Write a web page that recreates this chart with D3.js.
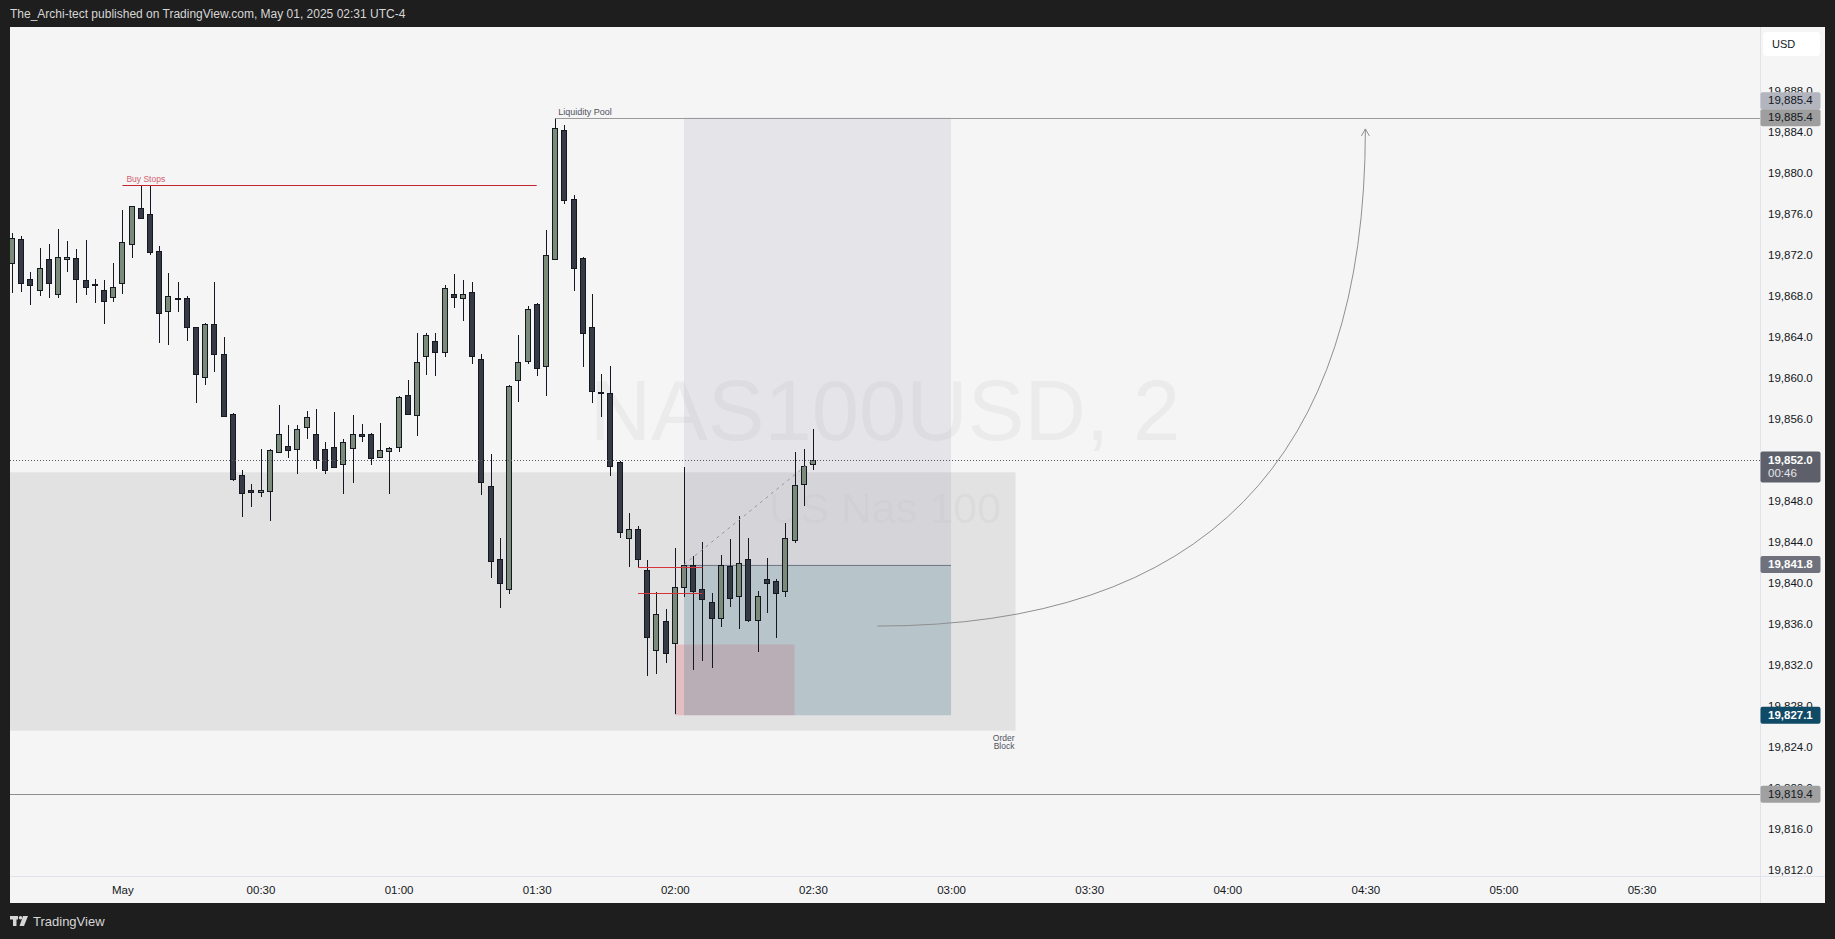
<!DOCTYPE html>
<html>
<head>
<meta charset="utf-8">
<script src="https://cdn.jsdelivr.net/npm/d3@7"></script>
<style>
html,body{margin:0;padding:0;background:#1e1e1e;overflow:hidden}
svg{display:block}
text{font-family:"Liberation Sans",Arial,sans-serif}
</style>
</head>
<body>
<svg id="chart" width="1835" height="939"></svg>
<script>
// ================= DATA =================
const headerText = "The_Archi-tect published on TradingView.com, May 01, 2025 02:31 UTC-4";
const symbolTitle = "NAS100USD, 2";
const symbolSubtitle = "US Nas 100";
const currencyLabel = "USD";
const firstBarTime = "2025-04-30 23:36";   // 2-minute bars
const barIntervalMin = 2;

const opens = [19871.2,19873.6,19869.7,19868.6,19871.6,19868.2,19871.6,19871.7,19869.6,19869.2,
19868.6,19867.9,19869.3,19873.1,19876.6,19876.0,19872.4,19866.5,19867.8,19867.8,
19865.0,19860.1,19865.3,19862.3,19856.5,19850.5,19849.1,19848.9,19849.0,19852.8,
19853.4,19853.1,19855.2,19854.5,19853.1,19853.3,19851.6,19853.2,19854.5,19854.5,
19852.3,19852.9,19853.3,19858.3,19856.4,19862.1,19863.6,19862.5,19868.2,19867.8,
19868.4,19861.9,19849.5,19842.3,19839.4,19859.8,19861.7,19867.2,19861.2,19871.6,
19884.2,19877.5,19871.7,19865.0,19858.6,19858.5,19851.8,19844.4,19845.3,19841.3,
19833.5,19836.3,19834.1,19839.6,19841.8,19839.4,19838.1,19836.6,19841.7,19838.7,
19842.3,19836.4,19840.4,19840.2,19839.2,19844.2,19849.7,19851.6];
const highs = [19874.1,19873.9,19870.3,19872.7,19873.1,19874.5,19873.4,19872.6,19873.5,19869.7,
19869.6,19871.2,19876.4,19876.8,19878.8,19878.8,19872.9,19870.2,19869.4,19868.0,
19865.0,19865.4,19869.4,19864.0,19856.6,19851.0,19849.7,19853.1,19853.1,19857.4,
19855.4,19855.4,19856.8,19857.0,19853.8,19856.7,19854.0,19856.4,19855.5,19854.6,
19855.6,19853.3,19858.2,19859.8,19864.4,19864.4,19864.4,19869.1,19870.1,19869.6,
19869.4,19862.3,19852.6,19844.4,19859.3,19864.2,19867.0,19867.3,19874.4,19885.4,
19884.7,19877.9,19871.8,19868.2,19860.4,19861.2,19851.9,19846.8,19845.6,19842.2,
19839.1,19837.5,19843.4,19851.3,19842.6,19844.0,19839.0,19842.7,19844.3,19846.5,
19844.4,19839.2,19842.4,19840.4,19845.9,19852.8,19853.1,19855.0];
const lows = [19868.3,19868.4,19867.1,19868.0,19867.8,19867.8,19870.3,19867.3,19868.1,19867.3,
19865.3,19867.4,19868.2,19871.7,19875.5,19872.0,19863.4,19863.2,19866.4,19863.6,
19857.6,19859.3,19860.6,19856.3,19850.0,19846.4,19847.4,19848.4,19846.0,19852.7,
19852.2,19850.6,19854.0,19851.1,19850.6,19851.2,19848.7,19849.8,19853.8,19851.5,
19852.2,19848.7,19852.8,19856.4,19854.3,19860.3,19860.2,19862.0,19866.8,19865.6,
19861.4,19848.6,19840.5,19837.6,19838.9,19857.7,19861.4,19860.2,19858.2,19871.6,
19877.0,19868.5,19861.1,19857.6,19856.2,19850.4,19844.4,19841.6,19841.6,19830.9,
19831.1,19832.2,19827.2,19838.6,19831.5,19832.4,19831.7,19835.7,19837.7,19835.5,
19836.2,19833.3,19837.1,19834.6,19838.6,19843.9,19847.5,19851.0];
const closes = [19873.7,19869.3,19869.1,19870.7,19869.3,19871.8,19871.8,19869.7,19868.9,19869.1,
19867.5,19868.9,19873.3,19876.8,19875.6,19872.3,19866.3,19868.0,19867.7,19865.0,
19860.4,19865.3,19862.3,19856.3,19850.1,19848.8,19848.9,19849.1,19853.0,19854.5,
19853.0,19855.0,19856.2,19852.0,19851.0,19851.3,19853.8,19854.5,19854.3,19852.2,
19853.0,19853.2,19858.1,19856.5,19861.6,19864.2,19862.5,19868.8,19867.9,19868.2,
19862.1,19849.9,19842.1,19840.0,19859.2,19861.6,19866.7,19861.0,19872.0,19884.4,
19877.4,19870.7,19864.4,19858.7,19858.5,19851.4,19845.0,19845.3,19842.3,19834.7,
19837.0,19833.2,19839.6,19841.8,19839.2,19838.4,19836.6,19841.8,19838.5,19842.0,
19836.4,19838.7,19840.0,19839.0,19844.4,19849.6,19851.4,19852.0];

const priceTicks = [19812,19816,19820,19824,19828,19832,19836,19840,19844,19848,19852,
19856,19860,19864,19868,19872,19876,19880,19884,19888];
const timeTicks = ["2025-05-01 00:00","2025-05-01 00:30","2025-05-01 01:00","2025-05-01 01:30",
"2025-05-01 02:00","2025-05-01 02:30","2025-05-01 03:00","2025-05-01 03:30","2025-05-01 04:00",
"2025-05-01 04:30","2025-05-01 05:00","2025-05-01 05:30"];
const timeTickLabels = ["May","00:30","01:00","01:30","02:00","02:30","03:00","03:30","04:00","04:30","05:00","05:30"];

// drawings
const buyStops = {price:19878.8, from:"2025-05-01 00:00", to:"2025-05-01 01:30", label:"Buy Stops"};
const liquidityPool = {price:19885.4, from:"2025-05-01 01:34", to:"2025-05-01 07:00", label:"Liquidity Pool"};
const orderBlock = {top:19850.8, bottom:19825.6, from:"2025-04-30 23:00", to:"2025-05-01 03:14", label:["Order","Block"]};
const lowLevel = {price:19819.4, from:"2025-04-30 23:00", to:"2025-05-01 07:00"};
const position = {entry:19841.8, target:19885.4, stop:19827.1, from:"2025-05-01 02:02", to:"2025-05-01 03:00",
                  pathEnd:"2025-05-01 02:30", pathPrice:19852.0};
const pinkZone = {top:19834.0, bottom:19827.1, from:"2025-05-01 02:00", to:"2025-05-01 02:26"};
const redLevels = [19841.6, 19839.0];
const redFrom = "2025-05-01 01:52", redTo = "2025-05-01 02:06";
const projection = {start:["2025-05-01 02:44",19835.8], control:["2025-05-01 04:30",19835.8], end:["2025-05-01 04:30",19884.3]};
const lastPrice = 19852.0, countdown = "00:46";

// ================= SCALES =================
const svg = d3.select("#chart");
const parse = d3.timeParse("%Y-%m-%d %H:%M");
const pane = {l:10, r:1760, t:27, b:876};
const x = d3.scaleTime()
  .domain([parse("2025-05-01 00:00"), parse("2025-05-01 05:30")])
  .range([122.4, 1641.6]);
const y = d3.scaleLinear().domain([19812, 19888]).range([870, 91]);
const t0 = parse(firstBarTime);
const bars = opens.map((o,i)=>({t:d3.timeMinute.offset(t0, i*barIntervalMin), o, h:highs[i], l:lows[i], c:closes[i]}));
const fmt = d3.format(",.1f");
const X = s => x(parse(s));

// ================= FRAME =================
svg.append("rect").attr("width",1835).attr("height",939).attr("fill","#1e1e1e");
svg.append("text").attr("x",10).attr("y",18).attr("font-size",12).attr("fill","#d6d6d6").text(headerText);
svg.append("rect").attr("x",10).attr("y",27).attr("width",1815).attr("height",876).attr("fill","#f5f5f5");

svg.append("defs").append("clipPath").attr("id","paneClip")
  .append("rect").attr("x",pane.l).attr("y",pane.t).attr("width",pane.r-pane.l).attr("height",pane.b-pane.t);
const g = svg.append("g").attr("clip-path","url(#paneClip)");

// watermark
const midX = (pane.l+pane.r)/2;
g.append("text").attr("x",midX).attr("y",440).attr("text-anchor","middle").attr("font-size",85)
  .attr("fill","rgba(120,123,134,0.075)").text(symbolTitle);
g.append("text").attr("x",midX).attr("y",523).attr("text-anchor","middle").attr("font-size",43)
  .attr("fill","rgba(120,123,134,0.075)").text(symbolSubtitle);

// order block
g.append("rect").attr("x",X(orderBlock.from)).attr("y",y(orderBlock.top))
  .attr("width",X(orderBlock.to)-X(orderBlock.from)).attr("height",y(orderBlock.bottom)-y(orderBlock.top))
  .attr("fill","rgba(120,120,120,0.15)");

// position tool
const px0 = X(position.from), px1 = X(position.to);
g.append("rect").attr("x",px0).attr("y",y(position.target)).attr("width",px1-px0)
  .attr("height",y(position.entry)-y(position.target)).attr("fill","rgba(165,165,185,0.2)");
// pink zone
g.append("rect").attr("x",X(pinkZone.from)).attr("y",y(pinkZone.top)).attr("width",X(pinkZone.to)-X(pinkZone.from))
  .attr("height",y(pinkZone.bottom)-y(pinkZone.top)).attr("fill","rgba(242,54,69,0.2)");
g.append("rect").attr("x",px0).attr("y",y(position.entry)).attr("width",px1-px0)
  .attr("height",y(position.stop)-y(position.entry)).attr("fill","rgba(109,145,160,0.36)");
g.append("line").attr("x1",px0).attr("x2",px1).attr("y1",Math.round(y(position.entry))+0.5).attr("y2",Math.round(y(position.entry))+0.5)
  .attr("stroke","#787b86").attr("stroke-width",1);

// ================= CANDLES =================
const cg = g.append("g").attr("shape-rendering","crispEdges");
bars.forEach(b=>{
  const k = Math.round(x(b.t));
  const up = b.c >= b.o;
  const yh = Math.round(y(b.h)), yl = Math.round(y(b.l));
  const yt = Math.round(y(Math.max(b.o,b.c))), yb = Math.round(y(Math.min(b.o,b.c)));
  cg.append("rect").attr("x",k-0.5).attr("y",yh).attr("width",1).attr("height",Math.max(1,yl-yh)).attr("fill","#151821");
  const hh = Math.max(2, yb-yt+1);
  cg.append("rect").attr("x",k-3).attr("y",yt).attr("width",6).attr("height",hh).attr("fill","#151821");
  if (hh > 2) cg.append("rect").attr("x",k-2).attr("y",yt+1).attr("width",4).attr("height",hh-2)
     .attr("fill", up ? "#7a8b79" : "#363a45");
});

// ================= LINES =================
// buy stops
const bsY = Math.round(y(buyStops.price))+0.5;
g.append("line").attr("x1",X(buyStops.from)).attr("x2",X(buyStops.to)).attr("y1",bsY).attr("y2",bsY)
  .attr("stroke","#c4252f").attr("stroke-width",1);
g.append("text").attr("x",X(buyStops.from)+4).attr("y",bsY-4).attr("font-size",8.5).attr("fill","#d2606f").text(buyStops.label);

// red levels
redLevels.forEach(p=>{
  const yy = Math.round(y(p))+0.5;
  g.append("line").attr("x1",X(redFrom)).attr("x2",X(redTo)).attr("y1",yy).attr("y2",yy).attr("stroke","#d8323c").attr("stroke-width",1);
});

// liquidity pool
const lpY = Math.round(y(liquidityPool.price))+0.5;
g.append("line").attr("x1",X(liquidityPool.from)).attr("x2",X(liquidityPool.to)).attr("y1",lpY).attr("y2",lpY)
  .attr("stroke","#9a9a9a").attr("stroke-width",1);
g.append("text").attr("x",X(liquidityPool.from)+3).attr("y",lpY-4).attr("font-size",9).attr("fill","#50535e").text(liquidityPool.label);

// low level
const llY = Math.round(y(lowLevel.price))+0.5;
g.append("line").attr("x1",X(lowLevel.from)).attr("x2",X(lowLevel.to)).attr("y1",llY).attr("y2",llY)
  .attr("stroke","#8e8e8e").attr("stroke-width",1);

// order block label
const obR = X(orderBlock.to);
orderBlock.label.forEach((s,i)=>{
  g.append("text").attr("x",obR-1).attr("y",y(orderBlock.bottom)+10+i*8.5).attr("text-anchor","end")
   .attr("font-size",8.5).attr("fill","#50535e").text(s);
});

// dashed path of position
g.append("line").attr("x1",px0).attr("y1",y(position.entry)).attr("x2",X(position.pathEnd)).attr("y2",y(position.pathPrice))
  .attr("stroke","#9598a1").attr("stroke-width",1).attr("stroke-dasharray","3 4");

// current price dotted line
const cpY = Math.round(y(lastPrice))+0.5;
g.append("line").attr("x1",pane.l).attr("x2",pane.r).attr("y1",cpY).attr("y2",cpY)
  .attr("stroke","#555a66").attr("stroke-width",1).attr("stroke-dasharray","1 2");

// projection curve
const p0 = [X(projection.start[0]), y(projection.start[1])];
const pc = [X(projection.control[0]), y(projection.control[1])];
const p1 = [X(projection.end[0]), y(projection.end[1])];
const path = d3.path();
path.moveTo(p0[0],p0[1]); path.quadraticCurveTo(pc[0],pc[1],p1[0],p1[1]);
g.append("path").attr("d",path.toString()).attr("fill","none").attr("stroke","#8f8f8f").attr("stroke-width",1);
const ah = d3.path();
ah.moveTo(p1[0]-4,p1[1]+7); ah.lineTo(p1[0],p1[1]); ah.lineTo(p1[0]+4,p1[1]+7);
g.append("path").attr("d",ah.toString()).attr("fill","none").attr("stroke","#8f8f8f").attr("stroke-width",1);

// ================= AXES =================
svg.append("line").attr("x1",pane.r+0.5).attr("x2",pane.r+0.5).attr("y1",27).attr("y2",903).attr("stroke","#e0e3eb");
svg.append("line").attr("x1",10).attr("x2",1825).attr("y1",pane.b+0.5).attr("y2",pane.b+0.5).attr("stroke","#e0e3eb");

const yAxis = d3.axisRight(y).tickValues(priceTicks).tickFormat(fmt).tickSize(0).tickPadding(8);
svg.append("g").attr("transform",`translate(${pane.r},0)`).call(yAxis)
  .attr("font-family","'Liberation Sans',Arial,sans-serif").attr("font-size",11.5)
  .call(a=>a.select(".domain").remove())
  .call(a=>a.selectAll("text").attr("fill","#131722"));

const xAxis = d3.axisBottom(x).tickValues(timeTicks.map(parse)).tickFormat((d,i)=>timeTickLabels[i]).tickSize(0).tickPadding(10);
svg.append("g").attr("transform",`translate(0,${pane.b})`).call(xAxis)
  .attr("font-family","'Liberation Sans',Arial,sans-serif").attr("font-size",11.5)
  .call(a=>a.select(".domain").remove())
  .call(a=>a.selectAll("text").attr("fill","#131722"));

// currency box
svg.append("rect").attr("x",1763).attr("y",32).attr("width",57).attr("height",24).attr("rx",3).attr("fill","#ffffff");
svg.append("text").attr("x",1772).attr("y",48).attr("font-size",11).attr("fill","#131722").text(currencyLabel);

// price tags
function tag(top, h, bg, rows){
  const tg = svg.append("g");
  tg.append("rect").attr("x",pane.r+0.5).attr("y",top).attr("width",60).attr("height",h).attr("rx",2).attr("fill",bg);
  rows.forEach((r,i)=>{
    tg.append("text").attr("x",pane.r+8).attr("y",top+12.3+i*13).attr("font-size",11.5)
      .attr("font-weight",r.bold?"bold":"normal").attr("fill",r.color).text(r.text);
  });
}
const lpTagY = y(liquidityPool.price);
tag(lpTagY-25.5, 17, "#b2b5be", [{text:fmt(liquidityPool.price), color:"#131722"}]);
tag(lpTagY-8.5, 17, "#9e9e9e", [{text:fmt(liquidityPool.price), color:"#131722"}]);
tag(y(lastPrice)-8.5, 31, "#5d606b", [{text:fmt(lastPrice), color:"#ffffff", bold:true},{text:countdown, color:"#e6e6ea"}]);
tag(y(position.entry)-8.5, 17, "#6f727c", [{text:fmt(position.entry), color:"#ffffff", bold:true}]);
tag(y(position.stop)-8.5, 17, "#0f4a66", [{text:fmt(position.stop), color:"#ffffff", bold:true}]);
tag(y(lowLevel.price)-8.5, 17, "#a0a0a0", [{text:fmt(lowLevel.price), color:"#131722"}]);

// ================= FOOTER =================
const fg = svg.append("g").attr("fill","#d6d6d6");
fg.append("rect").attr("x",10).attr("y",916).attr("width",8).attr("height",3.5);
fg.append("rect").attr("x",13).attr("y",916).attr("width",3.5).attr("height",10);
fg.append("circle").attr("cx",20.5).attr("cy",917.8).attr("r",1.8);
fg.append("path").attr("d","M23,916 L28,916 L24,926 L19.5,926 Z");
svg.append("text").attr("x",33).attr("y",926).attr("font-size",13).attr("fill","#d6d6d6").text("TradingView");
</script>
</body>
</html>
